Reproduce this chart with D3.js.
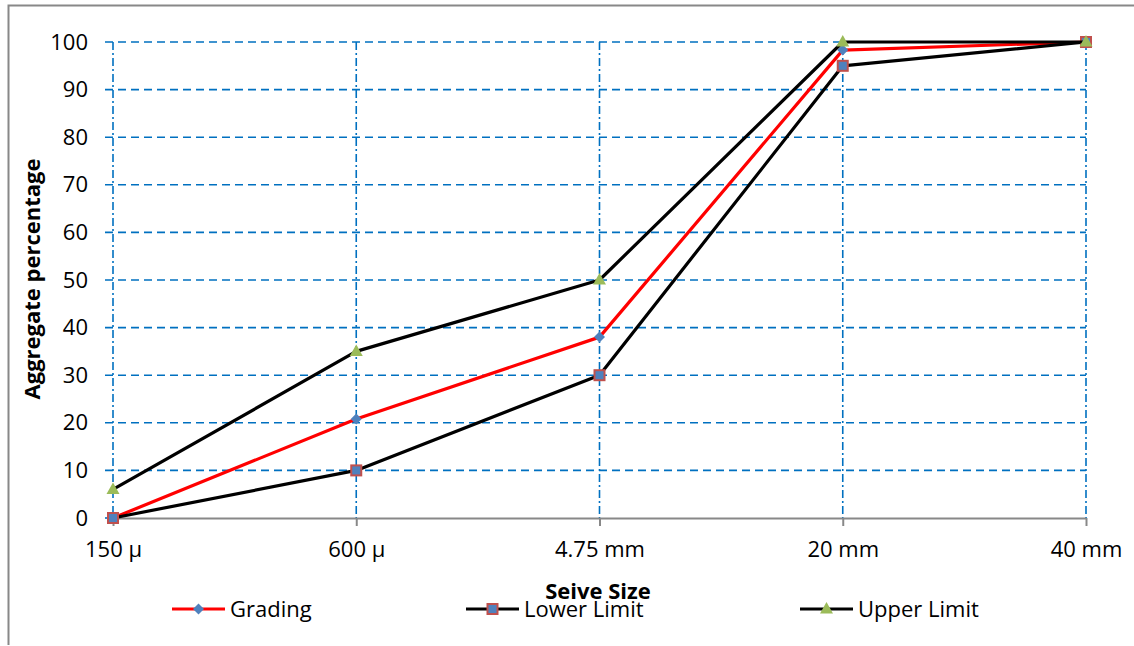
<!DOCTYPE html>
<html>
<head>
<meta charset="utf-8">
<script src="https://cdn.jsdelivr.net/npm/d3@7"></script>
<style>
  html, body { margin: 0; padding: 0; background: #fff; }
  svg { display: block; }
  text { font-family: "Open Sans", "Liberation Sans", sans-serif; fill: #000; }
</style>
</head>
<body>
<svg id="chart" width="1134" height="646"></svg>
<script>
// Sieve sizes and cumulative percentage passing
const sieveSizes = ["150 \u00b5", "600 \u00b5", "4.75 mm", "20 mm", "40 mm"];
const grading    = [0, 20.8, 38, 98.3, 100];
const lowerLimit = [0, 10, 30, 95, 100];
const upperLimit = [6, 35, 50, 100, 100];
const yTicks     = [0, 10, 20, 30, 40, 50, 60, 70, 80, 90, 100];

const series = [
  { name: "Grading",     values: grading,    color: "#FF0000", marker: "diamond" },
  { name: "Lower Limit", values: lowerLimit, color: "#000000", marker: "square" },
  { name: "Upper Limit", values: upperLimit, color: "#000000", marker: "triangle" }
];

const svg = d3.select("#chart");
const plotLeft = 113, plotRight = 1086, plotTop = 42, plotBottom = 518;
const fontSize = "22px";

const x = d3.scalePoint().domain(sieveSizes).range([plotLeft, plotRight]);
const y = d3.scaleLinear().domain([0, 100]).range([plotBottom, plotTop]);

// Outer frame (left and top edges)
svg.append("path")
  .attr("d", "M8.5,645 L8.5,5.5 L1134,5.5")
  .attr("fill", "none").attr("stroke", "#888").attr("stroke-width", 2);

// Horizontal dashed gridlines
svg.append("g").selectAll("line").data(yTicks.filter(d => d > 0)).join("line")
  .attr("x1", plotLeft - 8).attr("x2", plotRight)
  .attr("y1", d => y(d)).attr("y2", d => y(d))
  .attr("stroke", "#0070C0").attr("stroke-width", 1.6)
  .attr("stroke-dasharray", "8,5");

// Vertical dash-dot gridlines
svg.append("g").selectAll("line").data(sieveSizes).join("line")
  .attr("x1", d => x(d)).attr("x2", d => x(d))
  .attr("y1", plotTop).attr("y2", plotBottom)
  .attr("stroke", "#0070C0").attr("stroke-width", 1.6)
  .attr("stroke-dasharray", "8,3,2,3");

// Y-axis small tick at zero
svg.append("line")
  .attr("x1", plotLeft - 8).attr("x2", plotLeft).attr("y1", plotBottom).attr("y2", plotBottom)
  .attr("stroke", "#0070C0").attr("stroke-width", 1.6);

// X axis
const xAxis = svg.append("g").attr("transform", `translate(0,${plotBottom})`)
  .call(d3.axisBottom(x).tickSize(8).tickPadding(11).tickSizeOuter(0));
xAxis.select(".domain").attr("stroke", "#888").attr("stroke-width", 2)
  .attr("d", `M${plotLeft},0.5H${plotRight}`);
xAxis.selectAll(".tick line").attr("stroke", "#888").attr("stroke-width", 2);
xAxis.selectAll(".tick text")
  .style("font-family", "'Open Sans', sans-serif").style("font-size", fontSize)
  .attr("fill", "#000").attr("dy", "0.9em");

// Y axis labels
const yAxis = svg.append("g").attr("transform", `translate(${plotLeft},0)`)
  .call(d3.axisLeft(y).tickValues(yTicks).tickSize(0).tickPadding(25));
yAxis.select(".domain").remove();
yAxis.selectAll(".tick text")
  .style("font-family", "'Open Sans', sans-serif").style("font-size", fontSize)
  .attr("fill", "#000");

// Axis titles
svg.append("text")
  .attr("x", 598).attr("y", 599)
  .attr("text-anchor", "middle")
  .style("font-size", fontSize).style("font-weight", "bold")
  .text("Seive Size");

svg.append("text")
  .attr("transform", "translate(40,279) rotate(-90)")
  .attr("text-anchor", "middle")
  .style("font-size", fontSize).style("font-weight", "bold")
  .text("Aggregate percentage");

// Marker drawing helper
function drawMarker(g, type, cx, cy) {
  if (type === "diamond") {
    g.append("path")
      .attr("d", `M${cx},${cy - 5.5} L${cx + 5.5},${cy} L${cx},${cy + 5.5} L${cx - 5.5},${cy} Z`)
      .attr("fill", "#4F81BD");
  } else if (type === "square") {
    g.append("rect")
      .attr("x", cx - 5).attr("y", cy - 5).attr("width", 10).attr("height", 10)
      .attr("fill", "#4F81BD").attr("stroke", "#C0504D").attr("stroke-width", 2);
  } else {
    g.append("path")
      .attr("d", `M${cx},${cy - 7} L${cx + 6.5},${cy + 4.5} L${cx - 6.5},${cy + 4.5} Z`)
      .attr("fill", "#9BBB59");
  }
}

const line = d3.line().x((d, i) => x(sieveSizes[i])).y(d => y(d));

series.forEach(s => {
  const g = svg.append("g");
  g.append("path")
    .attr("d", line(s.values))
    .attr("fill", "none").attr("stroke", s.color).attr("stroke-width", 3.2)
    .attr("stroke-linejoin", "round");
  s.values.forEach((v, i) => drawMarker(g, s.marker, x(sieveSizes[i]), y(v)));
});

// Legend
const legendX = [172, 466, 800];
series.forEach((s, i) => {
  const g = svg.append("g");
  const lx = legendX[i], ly = 609;
  g.append("line")
    .attr("x1", lx).attr("x2", lx + 53).attr("y1", ly).attr("y2", ly)
    .attr("stroke", s.color).attr("stroke-width", 3.2);
  drawMarker(g, s.marker, lx + 26.5, ly);
  g.append("text")
    .attr("x", lx + 58).attr("y", ly).attr("dy", "0.35em")
    .style("font-size", fontSize)
    .text(s.name);
});
</script>
</body>
</html>
